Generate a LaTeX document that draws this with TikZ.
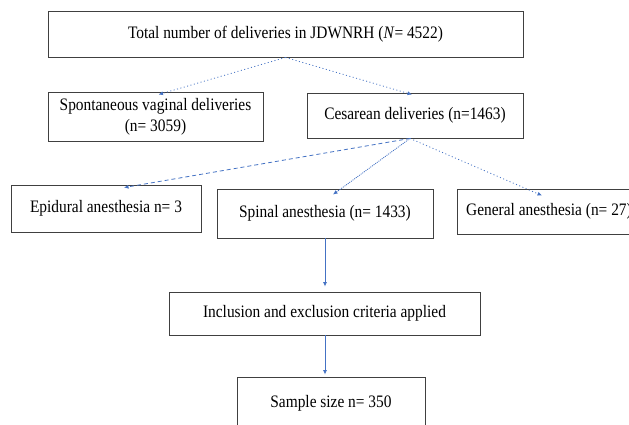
\documentclass[tikz,border=0pt]{standalone}
\usepackage{fontspec}
\setmainfont{Liberation Serif}[FakeStretch=0.88]
\usetikzlibrary{arrows.meta}
\definecolor{azul}{RGB}{68,114,196}
\begin{document}
\begin{tikzpicture}[x=1pt,y=-1pt,
        caja/.style={draw=black!75,line width=0.9pt,rectangle,inner sep=0pt,align=center,
            font=\fontsize{17.5}{21}\selectfont},
        flecha/.style={draw=azul,line width=0.8pt,-{Latex[length=4.5pt,width=4pt]}},
        punteado/.style={dash pattern=on 1pt off 2.5pt}]
            \useasboundingbox[fill=white] (0,0) rectangle (629,424);
            \node[caja,minimum width=475pt,minimum height=46pt] (nodoTotal) at (285.5,34) {Total number of deliveries in JDWNRH (\textit{N}= 4522)};
            \node[caja,minimum width=215pt,minimum height=49pt] (nodoVaginal) at (155.5,116.5) {Spontaneous vaginal deliveries\\(n= 3059)};
            \node[caja,minimum width=216pt,minimum height=45pt] (nodoCesarea) at (415,115.5) {Cesarean deliveries (n=1463)};
            \node[caja,minimum width=190pt,minimum height=47pt] (nodoEpidural) at (106,208.5) {Epidural anesthesia n= 3};
            \node[caja,minimum width=216pt,minimum height=49pt] (nodoSpinal) at (325,213.5) {Spinal anesthesia (n= 1433)};
            \node[caja,minimum width=184pt,minimum height=45pt] (nodoGeneral) at (549,211.5) {General anesthesia (n= 27)};
            \node[caja,minimum width=311pt,minimum height=43pt] (nodoCriterio) at (324.5,313.5) {Inclusion and exclusion criteria applied};
            \node[caja,minimum width=188pt,minimum height=52pt] (nodoMuestra) at (331,403) {Sample size n= 350};
            \draw[flecha,punteado] (nodoTotal.south) -- ([shift={(3,3)}]nodoVaginal.north);
            \draw[flecha,punteado] (nodoTotal.south) -- ([shift={(-3,2)}]nodoCesarea.north);
            \draw[flecha,dash pattern=on 4pt off 3pt] ([xshift=-5pt]nodoCesarea.south) -- ([shift={(18,3)}]nodoEpidural.north);
            \draw[flecha,dash pattern=on 1pt off 1pt] ([xshift=-5pt]nodoCesarea.south) -- ([shift={(8,6)}]nodoSpinal.north);
            \draw[flecha,punteado] ([xshift=-5pt]nodoCesarea.south) -- ([shift={(-7,7)}]nodoGeneral.north);
            \draw[flecha,shorten >=5pt] (nodoSpinal.south) -- (nodoSpinal.south |- nodoCriterio.north);
            \draw[flecha,shorten >=2pt] (nodoSpinal.south |- nodoCriterio.south) -- (nodoSpinal.south |- nodoMuestra.north);
        \end{tikzpicture}
\end{document}
